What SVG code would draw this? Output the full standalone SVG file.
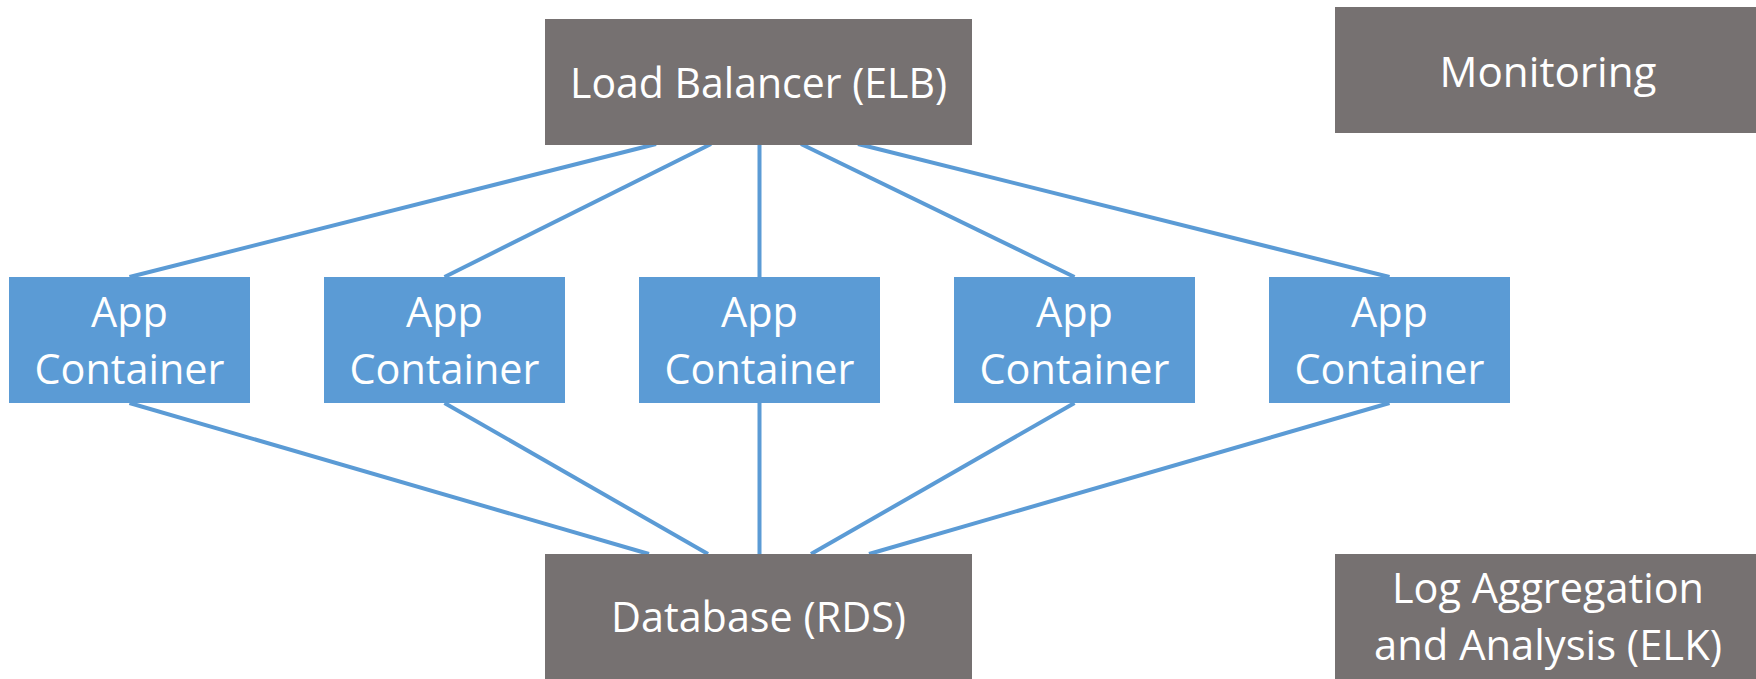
<svg xmlns="http://www.w3.org/2000/svg" width="1756" height="679" viewBox="0 0 1756 679">
<style>
.gray{fill:#767171}
.blue{fill:#5B9BD5}
.t{fill:#ffffff;font-family:"Open Sans","Noto Sans","Liberation Sans",sans-serif;font-size:42px;text-anchor:middle}
.c{stroke:#5B9BD5;stroke-width:4;fill:none}
</style>
<rect width="1756" height="679" fill="#ffffff"/>
<g id="connectors">
<line class="c" x1="656" y1="144" x2="129.5" y2="277"/>
<line class="c" x1="711" y1="144" x2="444.5" y2="277"/>
<line class="c" x1="759.5" y1="144" x2="759.5" y2="277"/>
<line class="c" x1="801" y1="144" x2="1074.5" y2="277"/>
<line class="c" x1="858" y1="144" x2="1389.5" y2="277"/>
<line class="c" x1="129.5" y1="403" x2="649" y2="554"/>
<line class="c" x1="444.5" y1="403" x2="708" y2="554"/>
<line class="c" x1="759.5" y1="403" x2="759.5" y2="554"/>
<line class="c" x1="1074.5" y1="403" x2="811" y2="554"/>
<line class="c" x1="1389.5" y1="403" x2="869" y2="554"/>
</g>
<g id="lb">
<rect class="gray" x="545" y="19" width="427" height="126"/>
<text class="t" x="758.5" y="98" textLength="377" lengthAdjust="spacingAndGlyphs">Load Balancer (ELB)</text>
</g>
<g id="monitoring">
<rect class="gray" x="1335" y="7" width="421" height="126"/>
<text class="t" x="1548" y="87" textLength="217" lengthAdjust="spacingAndGlyphs">Monitoring</text>
</g>
<g id="app1">
<rect class="blue" x="9" y="277" width="241" height="126"/>
<text class="t" x="129.5" y="327" textLength="77" lengthAdjust="spacingAndGlyphs">App</text>
<text class="t" x="129.5" y="384" textLength="190" lengthAdjust="spacingAndGlyphs">Container</text>
</g>
<g id="app2">
<rect class="blue" x="324" y="277" width="241" height="126"/>
<text class="t" x="444.5" y="327" textLength="77" lengthAdjust="spacingAndGlyphs">App</text>
<text class="t" x="444.5" y="384" textLength="190" lengthAdjust="spacingAndGlyphs">Container</text>
</g>
<g id="app3">
<rect class="blue" x="639" y="277" width="241" height="126"/>
<text class="t" x="759.5" y="327" textLength="77" lengthAdjust="spacingAndGlyphs">App</text>
<text class="t" x="759.5" y="384" textLength="190" lengthAdjust="spacingAndGlyphs">Container</text>
</g>
<g id="app4">
<rect class="blue" x="954" y="277" width="241" height="126"/>
<text class="t" x="1074.5" y="327" textLength="77" lengthAdjust="spacingAndGlyphs">App</text>
<text class="t" x="1074.5" y="384" textLength="190" lengthAdjust="spacingAndGlyphs">Container</text>
</g>
<g id="app5">
<rect class="blue" x="1269" y="277" width="241" height="126"/>
<text class="t" x="1389.5" y="327" textLength="77" lengthAdjust="spacingAndGlyphs">App</text>
<text class="t" x="1389.5" y="384" textLength="190" lengthAdjust="spacingAndGlyphs">Container</text>
</g>
<g id="db">
<rect class="gray" x="545" y="554" width="427" height="125"/>
<text class="t" x="758.5" y="632" textLength="295" lengthAdjust="spacingAndGlyphs">Database (RDS)</text>
</g>
<g id="log">
<rect class="gray" x="1335" y="554" width="421" height="125"/>
<text class="t" x="1548" y="603" textLength="312" lengthAdjust="spacingAndGlyphs">Log Aggregation</text>
<text class="t" x="1548" y="660" textLength="348" lengthAdjust="spacingAndGlyphs">and Analysis (ELK)</text>
</g>
</svg>
